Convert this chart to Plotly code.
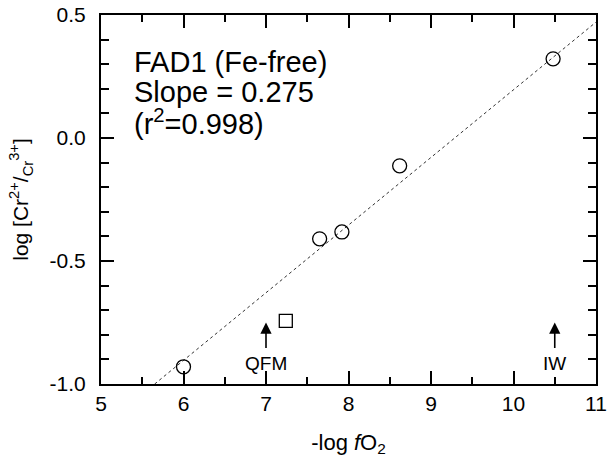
import plotly.graph_objects as go

# data
circle_x = [6.0, 7.65, 7.92, 8.62, 10.48]
circle_y = [-0.93, -0.41, -0.382, -0.113, 0.322]
square_x = [7.24]
square_y = [-0.743]
fit_slope = 0.275
fit_intercept = -2.554
fit_x = [5.65, 11.0]
fit_y = [fit_slope * v + fit_intercept for v in fit_x]

x_ticks = [5, 6, 7, 8, 9, 10, 11]
y_ticks = [-1.0, -0.5, 0.0, 0.5]
y_ticklabels = ["-1.0", "-0.5", "0.0", "0.5"]

buffers = ["QFM", "IW"]
buffer_x = [7.0, 10.5]

text_lines = ["FAD1 (Fe-free)", "Slope = 0.275", "(r<sup>2</sup>=0.998)"]

FONT = "Liberation Sans, Arial, Helvetica, sans-serif"

fig = go.Figure()
fig.add_trace(go.Scatter(x=fit_x, y=fit_y, mode="lines",
                         line=dict(color="#333", width=1, dash="dot"),
                         showlegend=False, hoverinfo="skip"))
fig.add_trace(go.Scatter(x=circle_x, y=circle_y, mode="markers",
                         marker=dict(symbol="circle-open", size=14, color="black",
                                     line=dict(width=1.3, color="black")),
                         showlegend=False))
fig.add_trace(go.Scatter(x=square_x, y=square_y, mode="markers",
                         marker=dict(symbol="square-open", size=13, color="black",
                                     line=dict(width=1.3, color="black")),
                         showlegend=False))

# text block
for t, yy in zip(text_lines, [0.31, 0.188, 0.065]):
    fig.add_annotation(x=5.38, y=yy, xref="x", yref="y", text=t, showarrow=False,
                       xanchor="left", yanchor="middle",
                       font=dict(family=FONT, size=29, color="black"))

# buffer arrows and labels
for name, bx in zip(buffers, buffer_x):
    fig.add_annotation(x=bx, y=-0.75, xref="x", yref="y", ax=bx, ay=-0.86,
                       axref="x", ayref="y", text="", showarrow=True,
                       arrowhead=2, arrowsize=1.4, arrowwidth=1.6, arrowcolor="black")
    fig.add_annotation(x=bx, y=-0.915, xref="x", yref="y", text=name, showarrow=False,
                       xanchor="center", yanchor="middle",
                       font=dict(family=FONT, size=19, color="black"))

fig.update_layout(
    width=609, height=462, plot_bgcolor="white", paper_bgcolor="white",
    margin=dict(l=101, r=13, t=15, b=78), showlegend=False,
    xaxis=dict(range=[5, 11], tickvals=x_ticks, ticktext=[str(v) for v in x_ticks],
               ticks="inside", ticklen=13, tickwidth=2, tickcolor="black",
               showline=True, linecolor="black", linewidth=2, mirror="allticks",
               showgrid=False, zeroline=False, automargin=False,
               ticklabeloverflow="allow",
               minor=dict(ticks="inside", ticklen=7, dtick=0.5, tick0=5,
                          tickwidth=2, tickcolor="black", showgrid=False),
               tickfont=dict(family=FONT, size=21, color="black"),
               title=dict(text="-log <i>f</i>O<sub>2</sub>", standoff=20,
                          font=dict(family=FONT, size=22, color="black"))),
    yaxis=dict(range=[-1.0, 0.5], tickvals=y_ticks, ticktext=y_ticklabels,
               ticks="inside", ticklen=13, tickwidth=2, tickcolor="black",
               showline=True, linecolor="black", linewidth=2, mirror="allticks",
               showgrid=False, zeroline=False, automargin=False,
               ticklabeloverflow="allow", ticklabelstandoff=9,
               minor=dict(ticks="inside", ticklen=8, dtick=0.1, tick0=-1.0,
                          tickwidth=2, tickcolor="black", showgrid=False),
               tickfont=dict(family=FONT, size=21, color="black"),
               title=dict(text="log [Cr<sup>2+</sup>/<sub>Cr</sub><sup>3+</sup>]",
                          font=dict(family=FONT, size=21, color="black"))),
)

# remove the default 8px page margin so the figure fills the window exactly
fig.write_html("out.html", config={"displayModeBar": False},
               post_script="document.body.style.margin='0px';document.body.style.overflow='hidden';")
